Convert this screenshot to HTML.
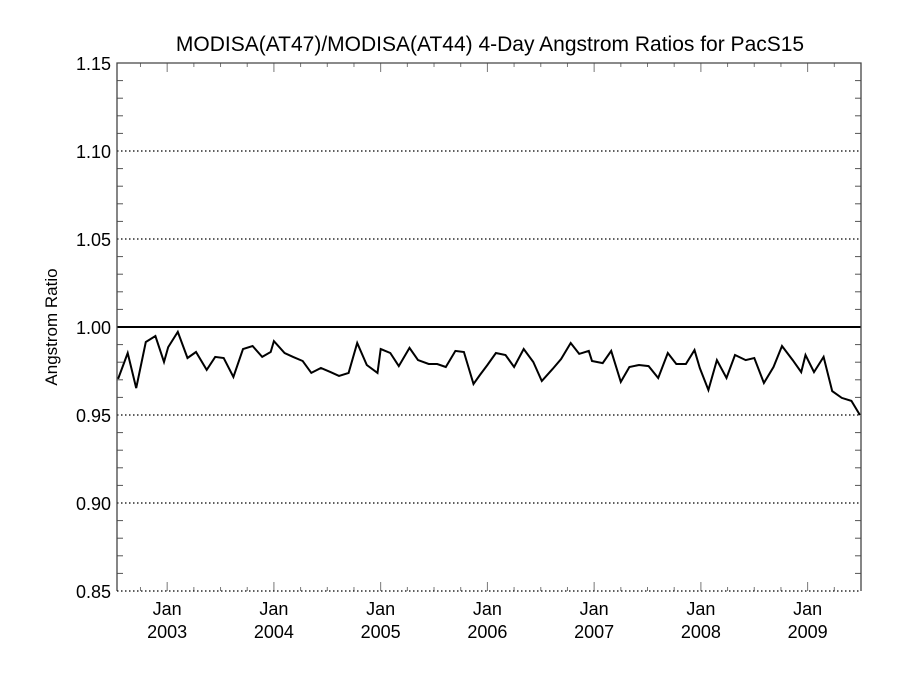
<!DOCTYPE html>
<html><head><meta charset="utf-8"><style>
body{margin:0;background:#fff;}
svg text{font-family:"Liberation Sans",Arial,sans-serif;fill:#000;}
</style></head><body>
<svg id="chart" width="900" height="675" xmlns="http://www.w3.org/2000/svg">
<text x="490" y="51" font-size="21" text-anchor="middle">MODISA(AT47)/MODISA(AT44) 4-Day Angstrom Ratios for PacS15</text>
<text x="57" y="327" font-size="17" text-anchor="middle" transform="rotate(-90 57 327)">Angstrom Ratio</text>
<g id="grid"></g><g id="axes"></g><g id="series"></g>
</svg>
<script>
const years=[2002.54,2002.63,2002.71,2002.80,2002.89,2002.97,2003.01,2003.10,2003.19,2003.27,2003.37,2003.45,2003.53,2003.62,2003.71,2003.80,2003.89,2003.97,2004.00,2004.10,2004.18,2004.27,2004.35,2004.44,2004.53,2004.61,2004.70,2004.78,2004.87,2004.97,2005.00,2005.09,2005.17,2005.27,2005.35,2005.45,2005.53,2005.61,2005.70,2005.78,2005.87,2005.93,2006.00,2006.08,2006.17,2006.25,2006.34,2006.43,2006.51,2006.61,2006.69,2006.78,2006.86,2006.95,2006.98,2007.08,2007.16,2007.25,2007.33,2007.42,2007.51,2007.60,2007.69,2007.77,2007.86,2007.94,2007.99,2008.07,2008.15,2008.24,2008.32,2008.42,2008.50,2008.59,2008.68,2008.76,2008.86,2008.94,2008.98,2009.06,2009.15,2009.23,2009.32,2009.41,2009.49];
const ratios=[.9705,.9852,.9653,.9915,.9949,.9801,.9886,.9972,.9824,.9858,.9756,.9830,.9824,.9716,.9875,.9892,.9830,.9858,.9920,.9852,.9830,.9807,.9739,.9767,.9744,.9722,.9739,.9909,.9784,.9739,.9875,.9852,.9778,.9881,.9812,.9790,.9790,.9773,.9864,.9858,.9676,.9727,.9784,.9852,.9841,.9773,.9875,.9801,.9693,.9761,.9818,.9909,.9847,.9864,.9807,.9795,.9864,.9688,.9773,.9784,.9778,.9710,.9852,.9790,.9790,.9869,.9767,.9642,.9812,.9710,.9841,.9812,.9824,.9682,.9773,.9892,.9812,.9744,.9841,.9744,.9830,.9636,.9597,.9580,.9500];
const yTicks=[0.85,0.90,0.95,1.00,1.05,1.10,1.15];
const yTickLabels=["0.85","0.90","0.95","1.00","1.05","1.10","1.15"];
const xYears=[2003,2004,2005,2006,2007,2008,2009];
const X0=117,X1=861,Y0=591,Y1=63,D0=2002.53,D1=2009.50,V0=0.85,V1=1.15;
const sx=d=>X0+(d-D0)/(D1-D0)*(X1-X0);
const sy=v=>Y0-(v-V0)/(V1-V0)*(Y0-Y1);
const NS="http://www.w3.org/2000/svg";
function mk(p,t,a){const e=document.createElementNS(NS,t);for(const k in a)e.setAttribute(k,a[k]);p.appendChild(e);return e;}
const grid=document.getElementById('grid'),axes=document.getElementById('axes'),ser=document.getElementById('series');
yTicks.forEach((v,i)=>{
  const y=sy(v);
  if(i>0&&i<yTicks.length-1){
    const l=mk(grid,'line',{x1:X0,x2:X1,y1:y,y2:y,stroke:'#000','stroke-width':v===1?2:1.3,'stroke-dasharray':v===1?'none':'1.5,2.5'});
    
    
  }
  const t=mk(axes,'text',{x:X0-6,y:y+7,'font-size':18,'text-anchor':'end'});
  t.textContent=yTickLabels[i];
  
  
});
for(let v=0.85;v<1.1501;v+=0.01){
  const y=sy(v);const major=Math.abs(Math.round(v*100)%5)===0;
  if(major)continue;
  mk(axes,'line',{x1:X0,x2:X0+6,y1:y,y2:y,stroke:'#555','stroke-width':1});
  mk(axes,'line',{x1:X1,x2:X1-6,y1:y,y2:y,stroke:'#555','stroke-width':1});
}
for(let y=2002;y<=2009;y++){for(let q=0;q<4;q++){const d=y+q/4;if(d<D0||d>D1)continue;const x=sx(d);const L=q===0?9:4;
  mk(axes,'line',{x1:x,x2:x,y1:Y0,y2:Y0-L,stroke:'#777','stroke-width':1});
  mk(axes,'line',{x1:x,x2:x,y1:Y1,y2:Y1+L,stroke:'#777','stroke-width':1});}}
xYears.forEach(yr=>{
  const x=sx(yr);
  const t=mk(axes,'text',{x:x,y:615,'font-size':18,'text-anchor':'middle'});t.textContent='Jan';
  
  
  const t2=mk(axes,'text',{x:x,y:638,'font-size':18,'text-anchor':'middle'});t2.textContent=String(yr);
  
  
});
const fr=mk(axes,'path',{d:`M${X0},${Y0}V${Y1}H${X1}V${Y0}`,fill:'none',stroke:'#444','stroke-width':1.3});


const bt=mk(axes,'line',{x1:X0,x2:X1,y1:Y0,y2:Y0,stroke:'#000','stroke-width':1.3,'stroke-dasharray':'1.5,2.5'});


const pts=years.map((d,i)=>sx(d).toFixed(1)+','+sy(ratios[i]).toFixed(1)).join(' ');
const pl=mk(ser,'polyline',{points:pts,fill:'none',stroke:'#000','stroke-width':2,'stroke-linejoin':'miter'});


</script>
</body></html>
